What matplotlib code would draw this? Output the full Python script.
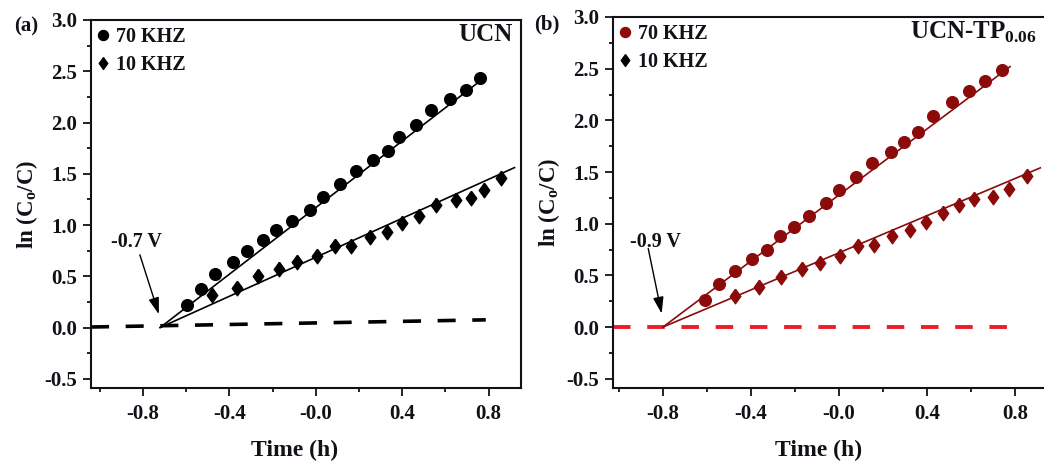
import matplotlib
matplotlib.use('Agg')
import matplotlib.pyplot as plt
from matplotlib.lines import Line2D

plt.rcParams['font.family'] = ['Liberation Serif', 'DejaVu Serif']
plt.rcParams['font.weight'] = 'bold'
plt.rcParams['axes.labelweight'] = 'bold'

# panel (a) UCN
a_t70 = [-0.598, -0.529, -0.467, -0.385, -0.318, -0.246, -0.182, -0.112, -0.028, 0.034,
         0.111, 0.188, 0.265, 0.334, 0.385, 0.462, 0.532, 0.620, 0.694, 0.758]
a_y70 = [0.22, 0.38, 0.52, 0.64, 0.75, 0.85, 0.95, 1.04, 1.15, 1.27,
         1.40, 1.53, 1.63, 1.72, 1.86, 1.98, 2.12, 2.23, 2.32, 2.43]
a_t10 = [-0.478, -0.364, -0.267, -0.170, -0.087, 0.006, 0.088, 0.165, 0.249,
         0.331, 0.399, 0.478, 0.558, 0.647, 0.720, 0.781, 0.859]
a_y10 = [0.32, 0.39, 0.50, 0.57, 0.64, 0.70, 0.80, 0.80, 0.88,
         0.93, 1.02, 1.09, 1.20, 1.24, 1.26, 1.34, 1.46]
a_fit70 = ([-0.72, 0.77], [0.0, 2.42])
a_fit10 = ([-0.72, 0.92], [0.0, 1.56])
a_base = ([-1.04, 0.787], [0.005, 0.075])

# panel (b) UCN-TP0.06
b_t70 = [-0.609, -0.544, -0.473, -0.394, -0.329, -0.268, -0.205, -0.135, -0.059, 0.001,
         0.077, 0.149, 0.236, 0.295, 0.358, 0.427, 0.512, 0.588, 0.664, 0.740]
b_y70 = [0.26, 0.42, 0.54, 0.66, 0.75, 0.88, 0.97, 1.07, 1.20, 1.33,
         1.45, 1.59, 1.69, 1.79, 1.89, 2.04, 2.18, 2.28, 2.38, 2.49]
b_t10 = [-0.473, -0.364, -0.264, -0.170, -0.086, 0.005, 0.085, 0.160, 0.240,
         0.323, 0.395, 0.471, 0.547, 0.614, 0.699, 0.774, 0.853]
b_y10 = [0.30, 0.39, 0.48, 0.56, 0.62, 0.69, 0.78, 0.79, 0.88,
         0.94, 1.02, 1.10, 1.18, 1.24, 1.26, 1.34, 1.46]
b_fit70 = ([-0.80, 0.777], [0.0, 2.52])
b_fit10 = ([-0.80, 0.914], [0.0, 1.54])
b_base = ([-1.027, 0.81], [0.0, 0.0])

xticks = [-0.8, -0.4, 0.0, 0.4, 0.8]
xticklabels = ['-0.8', '-0.4', '-0.0', '0.4', '0.8']
xminor = [-1.0, -0.6, -0.2, 0.2, 0.6]
yticks = [-0.5, 0.0, 0.5, 1.0, 1.5, 2.0, 2.5, 3.0]
yminor = [-0.25, 0.25, 0.75, 1.25, 1.75, 2.25, 2.75]

txt = '#111118'
dark_red = '#8b0b0b'
dash_red = '#ec1c2a'
# slightly tall diamond, like the original symbols
diamond = [(0, 1), (0.72, 0), (0, -1), (-0.72, 0), (0, 1)]

fig = plt.figure(figsize=(10.44, 4.61), dpi=100)
ax1 = fig.add_axes([91 / 1044, 73 / 461, 430 / 1044, 368 / 461])
ax2 = fig.add_axes([613 / 1044, 73 / 461, 433 / 1044, 371 / 461])


def style(ax, xlim, title, title_x):
    ax.set_xlim(*xlim)
    ax.set_ylim(-0.59, 3.0)
    ax.set_xticks(xticks)
    ax.set_xticklabels(xticklabels)
    ax.set_xticks(xminor, minor=True)
    ax.set_yticks(yticks)
    ax.set_yticklabels(['%.1f' % v for v in yticks])
    ax.set_yticks(yminor, minor=True)
    ax.tick_params(which='major', direction='out', length=5.8, width=1.3,
                   labelsize=15, pad=4, colors=txt)
    ax.tick_params(which='minor', direction='out', length=3.2, width=1.3, colors=txt)
    ax.tick_params(axis='x', which='major', pad=6)
    for s in ax.spines.values():
        s.set_linewidth(1.5)
        s.set_color(txt)
    ax.set_xlabel('Time (h)', fontsize=17, color=txt, labelpad=11)
    ax.xaxis.label.set_x(0.474)
    ax.set_ylabel(r'ln (C$_\mathregular{o}$/C)', fontsize=16.5, color=txt, labelpad=3)
    ax.text(title_x, 0.992, title, transform=ax.transAxes, ha='right', va='top',
            fontsize=18, color=txt)


style(ax1, (-1.04, 0.95), 'UCN', 0.981)
style(ax2, (-1.027, 0.94), r'UCN-TP$_\mathregular{0.06}$', 0.978)

# panel (a)
ax1.plot(a_base[0], a_base[1], color='black', lw=2.6, dashes=(5, 4.6))
ax1.plot(a_fit70[0], a_fit70[1], color='black', lw=1.2)
ax1.plot(a_fit10[0], a_fit10[1], color='black', lw=1.2)
ax1.plot(a_t70, a_y70, 'o', color='black', ms=8.4)
ax1.plot(a_t10, a_y10, marker=diamond, ls='none', color='black', ms=10.5)
ax1.annotate('', xy=(-0.726, 0.13), xytext=(-0.814, 0.71),
             arrowprops=dict(arrowstyle='-|>,head_length=1.0,head_width=0.32',
                             color='black', lw=1.0, shrinkA=0, shrinkB=0))
ax1.text(-0.828, 0.835, '-0.7 V', ha='center', va='center', fontsize=14.5, color=txt)

# panel (b)
ax2.plot(b_base[0], b_base[1], color=dash_red, lw=2.8, dashes=(4.5, 4.3))
ax2.plot(b_fit70[0], b_fit70[1], color=dark_red, lw=1.2)
ax2.plot(b_fit10[0], b_fit10[1], color=dark_red, lw=1.2)
ax2.plot(b_t70, b_y70, 'o', color=dark_red, ms=8.4)
ax2.plot(b_t10, b_y10, marker=diamond, ls='none', color=dark_red, ms=10.5)
ax2.annotate('', xy=(-0.806, 0.13), xytext=(-0.867, 0.76),
             arrowprops=dict(arrowstyle='-|>,head_length=1.0,head_width=0.32',
                             color='black', lw=1.0, shrinkA=0, shrinkB=0))
ax2.text(-0.836, 0.825, '-0.9 V', ha='center', va='center', fontsize=14.5, color=txt)

for ax, c70 in [(ax1, 'black'), (ax2, dark_red)]:
    handles = [Line2D([], [], marker='o', ls='none', color=c70, ms=7.2),
               Line2D([], [], marker=diamond, ls='none', color='black', ms=8.5)]
    ax.legend(handles, ['70 KHZ', '10 KHZ'], loc='upper left', bbox_to_anchor=(0, 1.0),
              frameon=False, fontsize=14.5, borderaxespad=0, borderpad=0.35,
              handlelength=0.5, handletextpad=0.4, labelspacing=0.4,
              labelcolor=txt)

fig.text(26 / 1044, 1 - 26 / 461, '(a)', ha='center', va='center', fontsize=15, color=txt)
fig.text(547 / 1044, 1 - 24 / 461, '(b)', ha='center', va='center', fontsize=15, color=txt)

fig.savefig('out.png', dpi=100)
